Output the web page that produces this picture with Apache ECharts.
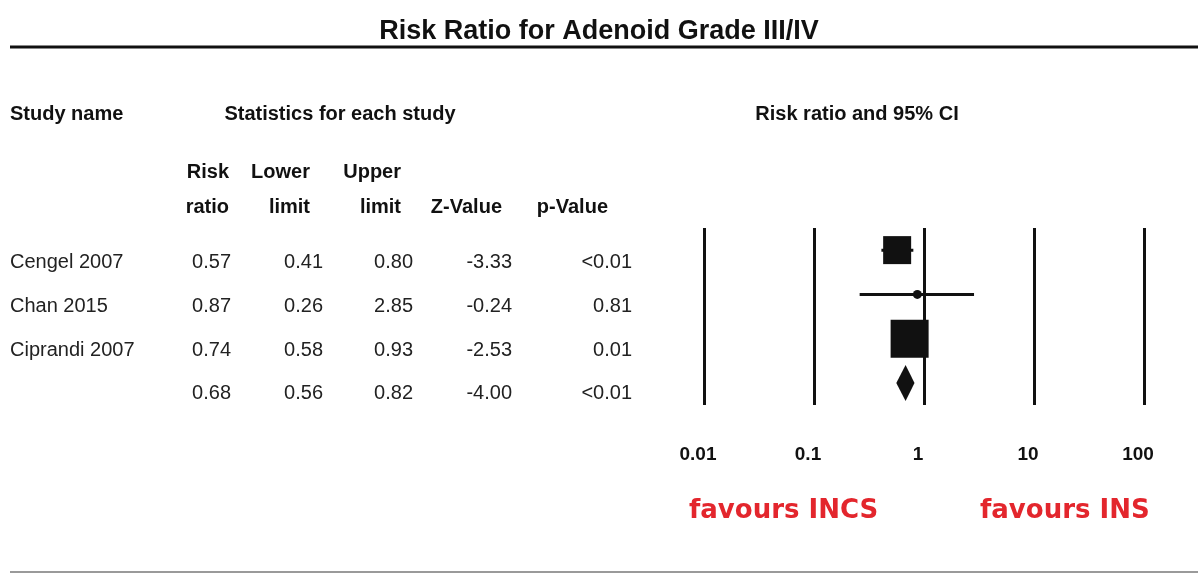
<!DOCTYPE html>
<html>

<head>
	<meta charset="utf-8" />
	<title>Risk Ratio for Adenoid Grade III/IV</title>
	<style>
		* {
			padding: 0;
			margin: 0;
		}

		body {
			background: #fff;
		}
	</style>
</head>

<body>
	<div id="main" style="width:1198px;height:574px;"></div>
	<script src="https://cdn.jsdelivr.net/npm/echarts@6/dist/echarts.min.js"></script>
	<script type="text/javascript">
		// 研究資料
		var studies = ['Cengel 2007', 'Chan 2015', 'Ciprandi 2007', ''];
		var riskRatio = [0.57, 0.87, 0.74, 0.68];
		var lowerLimit = [0.41, 0.26, 0.58, 0.56];
		var upperLimit = [0.80, 2.85, 0.93, 0.82];
		var zValue = ['-3.33', '-0.24', '-2.53', '-4.00'];
		var pValue = ['<0.01', '0.81', '0.01', '<0.01'];
		var axisTicks = [0.01, 0.1, 1, 10, 100];

		// 版面設定 (表格欄位的右邊界, 列的位置)
		var colRight = [231, 323, 413, 512, 632];
		var headRight = [229, 310, 401, 502, 608];
		var rowY = [262, 306, 350, 393];
		var markerSize = [28, 9, 38];

		var chartDom = document.getElementById('main');
		var myChart = echarts.init(chartDom);
		var FONT = '"Liberation Sans", Arial, sans-serif';
		var INK = '#111';

		function txt(x, y, s, opt) {
			opt = opt || {};
			return {
				type: 'text',
				x: x,
				y: y,
				style: {
					text: s,
					fill: opt.fill || '#222',
					font: (opt.bold ? 'bold ' : '') + (opt.size || 20) + 'px ' + (opt.family || FONT),
					textAlign: opt.align || 'left',
					textVerticalAlign: 'middle'
				}
			};
		}

		var graphics = [];
		// 標題下方的粗線 與 底線
		graphics.push({ type: 'line', shape: { x1: 10, y1: 47, x2: 1198, y2: 47 }, style: { stroke: INK, lineWidth: 3 } });
		graphics.push({ type: 'line', shape: { x1: 10, y1: 572, x2: 1198, y2: 572 }, style: { stroke: '#9a9a9a', lineWidth: 2 } });

		// 表頭
		graphics.push(txt(10, 114, 'Study name', { bold: true, fill: INK }));
		graphics.push(txt(340, 114, 'Statistics for each study', { bold: true, fill: INK, align: 'center' }));
		graphics.push(txt(857, 114, 'Risk ratio and 95% CI', { bold: true, fill: INK, align: 'center' }));
		var head1 = ['Risk', 'Lower', 'Upper', '', ''];
		var head2 = ['ratio', 'limit', 'limit', 'Z-Value', 'p-Value'];
		head1.forEach(function (h, i) {
			if (h) graphics.push(txt(headRight[i], 172, h, { bold: true, fill: INK, align: 'right' }));
		});
		head2.forEach(function (h, i) {
			graphics.push(txt(headRight[i], 207, h, { bold: true, fill: INK, align: 'right' }));
		});

		// 表格內容
		studies.forEach(function (name, i) {
			var y = rowY[i];
			if (name) graphics.push(txt(10, y, name));
			var cells = [riskRatio[i].toFixed(2), lowerLimit[i].toFixed(2), upperLimit[i].toFixed(2), zValue[i], pValue[i]];
			cells.forEach(function (c, j) {
				graphics.push(txt(colRight[j], y, c, { align: 'right' }));
			});
		});

		// 偏好標示
		var RED = '#e3262d';
		graphics.push(txt(689, 511, 'favours INCS', { bold: true, size: 26, fill: RED, family: '"DejaVu Sans", Verdana, sans-serif' }));
		graphics.push(txt(980, 511, 'favours INS', { bold: true, size: 26, fill: RED, family: '"DejaVu Sans", Verdana, sans-serif' }));

		// 每一列在 y 軸上的位置
		var rows = studies.map(function (s, i) { return i + 0.5; });
		var nStudy = 3;

		var ciData = [];
		var boxData = [];
		for (var i = 0; i < nStudy; i++) {
			ciData.push([lowerLimit[i], upperLimit[i], rows[i]]);
			boxData.push({
				value: [riskRatio[i], rows[i]],
				symbol: i === 1 ? 'circle' : 'rect',
				symbolSize: markerSize[i]
			});
		}
		var pooled = [[lowerLimit[3], riskRatio[3], upperLimit[3], rows[3]]];

		var option = {
			animation: false,
			title: {
				text: 'Risk Ratio for Adenoid Grade III/IV',
				left: 'center',
				top: 13,
				textStyle: { fontFamily: FONT, fontSize: 27, fontWeight: 'bold', color: INK }
			},
			grid: { left: 704, right: 54, top: 228, height: 177 },
			xAxis: {
				type: 'log',
				logBase: 10,
				min: axisTicks[0],
				max: axisTicks[axisTicks.length - 1],
				axisLine: { show: false },
				axisTick: { show: false },
				splitLine: { show: true, lineStyle: { color: INK, width: 3 } },
				axisLabel: {
					margin: 40,
					fontFamily: FONT,
					fontSize: 19,
					fontWeight: 'bold',
					color: INK,
					padding: [0, 12, 0, 0],
					formatter: function (v) { return String(+(+v).toPrecision(2)); }
				}
			},
			yAxis: { type: 'value', min: 0, max: 4, inverse: true, show: false },
			series: [
				{
					// 信賴區間
					type: 'custom',
					data: ciData,
					renderItem: function (params, api) {
						var a = api.coord([api.value(0), api.value(2)]);
						var b = api.coord([api.value(1), api.value(2)]);
						return {
							type: 'line',
							shape: { x1: a[0], y1: a[1], x2: b[0], y2: b[1] },
							style: { stroke: INK, lineWidth: 3 }
						};
					},
					encode: { x: [0, 1], y: 2 },
					z: 3
				},
				{
					type: 'scatter',
					data: boxData,
					itemStyle: { color: INK, opacity: 1 },
					z: 4
				},
				{
					// 合併效應菱形
					type: 'custom',
					data: pooled,
					renderItem: function (params, api) {
						var lo = api.coord([api.value(0), api.value(3)]);
						var mid = api.coord([api.value(1), api.value(3)]);
						var hi = api.coord([api.value(2), api.value(3)]);
						var h = 18;
						return {
							type: 'polygon',
							shape: { points: [[lo[0], lo[1]], [mid[0], mid[1] - h], [hi[0], hi[1]], [mid[0], mid[1] + h]] },
							style: { fill: INK }
						};
					},
					encode: { x: [0, 1, 2], y: 3 },
					z: 4
				}
			],
			graphic: graphics
		};
		myChart.setOption(option);
	</script>
</body>

</html>
